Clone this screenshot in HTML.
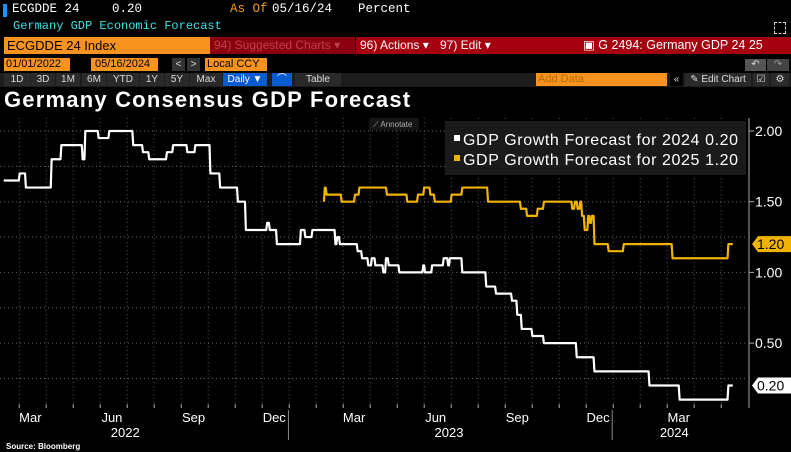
<!DOCTYPE html>
<html><head><meta charset="utf-8"><style>
body{margin:0;background:#000;width:791px;height:452px;overflow:hidden;position:relative;font-family:"Liberation Sans",sans-serif;}
.a{position:absolute;white-space:nowrap;}
.m{font-family:"Liberation Mono",monospace;}
.btn{position:absolute;top:73px;height:13px;background:#2a2a2a;color:#ddd;font-size:10px;line-height:13px;text-align:center;}
</style></head><body>
<div class="a" style="left:3px;top:4px;width:4px;height:13px;background:#1e90ff"></div>
<div class="a m" style="left:12px;top:2px;font-size:12.5px;color:#fff">ECGDDE 24</div>
<div class="a m" style="left:112px;top:2px;font-size:12.5px;color:#fff">0.20</div>
<div class="a m" style="left:230px;top:2px;font-size:12.5px;color:#f39c12">As Of</div>
<div class="a m" style="left:272px;top:2px;font-size:12.5px;color:#fff">05/16/24</div>
<div class="a m" style="left:358px;top:2px;font-size:12.5px;color:#fff">Percent</div>
<div class="a m" style="left:13px;top:19px;font-size:12px;color:#3ee0e8">Germany GDP Economic Forecast</div>
<div class="a" style="left:774px;top:22px;width:10px;height:10px;border:1px dashed #ddd"></div>

<div class="a" style="left:4px;top:37px;width:206px;height:17px;background:#f7931e;color:#000;font-size:13px;line-height:17px;padding-left:3px;box-sizing:border-box">ECGDDE 24 Index</div>
<div class="a" style="left:210px;top:37px;width:145px;height:17px;background:#8a0010;color:#c0404a;font-size:12px;line-height:17px;padding-left:4px;box-sizing:border-box">94) Suggested Charts ▾</div>
<div class="a" style="left:356px;top:37px;width:435px;height:17px;background:#a50010"></div>
<div class="a" style="left:360px;top:37px;color:#fff;font-size:12px;line-height:17px">96) Actions ▾</div>
<div class="a" style="left:440px;top:37px;color:#fff;font-size:12px;line-height:17px">97) Edit ▾</div>
<div class="a" style="left:583px;top:37px;color:#fff;font-size:12.5px;line-height:17px">&#x25A3; G 2494: Germany GDP 24 25</div>

<div class="a" style="left:4px;top:58px;width:66px;height:13px;background:#f7931e;color:#000;font-size:11px;line-height:13px;padding-left:2px;box-sizing:border-box">01/01/2022</div>
<div class="a" style="left:91px;top:58px;width:67px;height:13px;background:#f7931e;color:#000;font-size:11px;line-height:13px;padding-left:4px;box-sizing:border-box">05/16/2024</div>
<div class="a" style="left:172px;top:58px;width:13px;height:13px;background:#333;color:#ddd;font-size:10px;text-align:center;line-height:13px">&lt;</div>
<div class="a" style="left:187px;top:58px;width:13px;height:13px;background:#333;color:#ddd;font-size:10px;text-align:center;line-height:13px">&gt;</div>
<div class="a" style="left:205px;top:58px;width:62px;height:13px;background:#f7931e;color:#000;font-size:11px;line-height:13px;padding-left:2px;box-sizing:border-box">Local CCY</div>
<div class="a" style="left:745px;top:59px;width:21px;height:12px;background:#555;color:#ddd;font-size:10px;text-align:center">↶</div>
<div class="a" style="left:767px;top:59px;width:22px;height:12px;background:#444;color:#999;font-size:10px;text-align:center">↷</div>

<div class="a" style="left:0;top:73px;width:791px;height:14px;background:#1c1c1c"></div>
<div class="btn" style="left:4px;width:26px">1D</div>
<div class="btn" style="left:31px;width:24px">3D</div>
<div class="btn" style="left:56px;width:24px">1M</div>
<div class="btn" style="left:82px;width:24px">6M</div>
<div class="btn" style="left:107px;width:32px">YTD</div>
<div class="btn" style="left:140px;width:24px">1Y</div>
<div class="btn" style="left:165px;width:24px">5Y</div>
<div class="btn" style="left:190px;width:32px">Max</div>
<div class="btn" style="left:223px;width:44px;background:#0a5ad0;color:#fff">Daily ▼</div>
<div class="btn" style="left:272px;width:20px;background:#0a5ad0;color:#fff">⌒</div>
<div class="btn" style="left:295px;width:46px">Table</div>
<div class="a" style="left:536px;top:73px;width:131px;height:13px;background:#f7931e;color:#b86a00;font-size:11px;line-height:13px;padding-left:2px;box-sizing:border-box">Add Data</div>
<div class="btn" style="left:670px;width:13px;background:#000">«</div>
<div class="btn" style="left:685px;width:66px">✎ Edit Chart</div>
<div class="btn" style="left:753px;width:16px">☑</div>
<div class="btn" style="left:771px;width:18px">⚙</div>

<div class="a" style="left:4px;top:87px;font-size:22px;font-weight:bold;color:#fff;letter-spacing:1.2px">Germany Consensus GDP Forecast</div>

<svg class="a" style="left:0;top:0" width="791" height="452" id="chart">
<g id="grid"></g><g id="series"></g><g id="axis"></g>
<rect x="369" y="118" width="50" height="12" fill="#151515"/>
<text x="373" y="127" fill="#aaa" font-size="8" font-family="Liberation Sans">⟋ Annotate</text>
<rect x="445" y="121" width="301" height="54" fill="#1a1a1a"/>
<rect x="454" y="135" width="6" height="6" fill="#fff"/>
<text x="463" y="145" fill="#fff" font-size="16" letter-spacing="0.6" font-family="Liberation Sans">GDP Growth Forecast for 2024 0.20</text>
<rect x="454" y="155" width="6" height="6" fill="#f0b400"/>
<text x="463" y="165" fill="#fff" font-size="16" letter-spacing="0.6" font-family="Liberation Sans">GDP Growth Forecast for 2025 1.20</text>
<text x="6" y="449" fill="#fff" font-size="8" font-weight="bold" font-family="Liberation Sans">Source: Bloomberg</text>
</svg>
<script>
// days since 2022-01-01
const days2024=[44,62,69,98,109,133,136,151,163,190,201,208,228,235,251,260,277,288,308,317,341,344,352,379,384,392,418,420,423,443,448,455,459,463,472,475,478,490,517,519,527,540,545,547,561,588,599,617,623,628,640,653,690,710,772,806,861,866];
const vals2024=[1.65,1.7,1.6,1.8,1.9,1.8,2.0,1.95,2.0,1.9,1.85,1.8,1.85,1.9,1.85,1.9,1.7,1.6,1.5,1.3,1.35,1.3,1.2,1.3,1.25,1.3,1.2,1.25,1.2,1.15,1.1,1.05,1.1,1.05,1.0,1.1,1.05,1.0,1.05,1.0,1.05,1.1,1.05,1.1,1.0,0.9,0.85,0.8,0.7,0.6,0.55,0.5,0.4,0.3,0.2,0.1,0.2,0.2];
const days2025=[405,406,408,425,440,445,476,499,511,518,525,530,549,561,590,627,634,646,653,685,688,691,694,696,699,703,705,707,710,726,743,798,861,866];
const vals2025=[1.5,1.6,1.55,1.5,1.55,1.6,1.55,1.5,1.55,1.6,1.55,1.5,1.55,1.6,1.5,1.45,1.4,1.45,1.5,1.45,1.5,1.45,1.5,1.4,1.3,1.4,1.35,1.4,1.2,1.15,1.2,1.1,1.2,1.2];
const yTicks=[2.0,1.5,1.0,0.5];
const gridVals=[2.0,1.75,1.5,1.25,1.0,0.75,0.5,0.25];
const monthLabels=["Mar","Jun","Sep","Dec","Mar","Jun","Sep","Dec","Mar"];
const monthDays=[59,151,243,334,424,516,608,699,790];
const yearLabels=["2022","2023","2024"];
const yearMid=[181,546,800];
const yearStarts=[365,730];
const NS="http://www.w3.org/2000/svg";
const X=d=>-35.3+d*0.887;
const Y=v=>131+(2-v)*141.4;
function el(tag,attrs,parent){const e=document.createElementNS(NS,tag);for(const k in attrs)e.setAttribute(k,attrs[k]);parent.appendChild(e);return e;}
const grid=document.getElementById('grid'),ser=document.getElementById('series'),ax=document.getElementById('axis');
gridVals.forEach(v=>{const l=el('line',{x1:0,x2:748,y1:Y(v),y2:Y(v),stroke:'#666','stroke-dasharray':'1,3'},grid);

});
for(let d=31;d<=866;d+=30.44){const l=el('line',{x1:X(d),x2:X(d),y1:118,y2:408,stroke:'#555','stroke-dasharray':'1,3'},grid);

}
function path(ds,vs,color,name){let p='';for(let i=0;i<ds.length;i++){if(i>0)p+='L'+X(ds[i]-1)+','+Y(vs[i-1]);p+=(i?'L':'M')+X(ds[i])+','+Y(vs[i]);}
const e=el('path',{d:p,fill:'none',stroke:color,'stroke-width':2.2,'stroke-linejoin':'round'},ser);

}
path(days2025,vals2025,'#f0b400','series-2025-line');
path(days2024,vals2024,'#ffffff','series-2024-line');
el('line',{x1:749,x2:749,y1:118,y2:408,stroke:'#aaa'},ax);
yTicks.forEach(v=>{el('line',{x1:749,x2:754,y1:Y(v),y2:Y(v),stroke:'#aaa'},ax);
const t=el('text',{x:755,y:Y(v)+5,fill:'#fff','font-size':14,'font-family':'Liberation Sans'},ax);t.textContent=v.toFixed(2);

});
function tag(v,fill,txtc,name){const y=Y(v);el('path',{d:`M752,${y} L758,${y-8} L791,${y-8} L791,${y+8} L758,${y+8} Z`,fill:fill},ax);
const t=el('text',{x:757,y:y+5,fill:txtc,'font-size':14,'font-family':'Liberation Sans'},ax);t.textContent=v.toFixed(2);

}
tag(vals2025[vals2025.length-1],'#f0b400','#000','last-value-2025');
tag(vals2024[vals2024.length-1],'#fff','#000','last-value-2024');
for(let d=31;d<=866;d+=30.44){el('line',{x1:X(d),x2:X(d),y1:404,y2:408,stroke:'#aaa'},ax);}
monthLabels.forEach((m,i)=>{const t=el('text',{x:X(monthDays[i]+15),y:422,fill:'#fff','font-size':13,'text-anchor':'middle','font-family':'Liberation Sans'},ax);t.textContent=m;

});
yearLabels.forEach((y,i)=>{const t=el('text',{x:X(yearMid[i]),y:437,fill:'#fff','font-size':13,'text-anchor':'middle','font-family':'Liberation Sans'},ax);t.textContent=y;

});
yearStarts.forEach(d=>{el('line',{x1:X(d),x2:X(d),y1:410,y2:440,stroke:'#888'},ax);});
</script>
</body></html>
